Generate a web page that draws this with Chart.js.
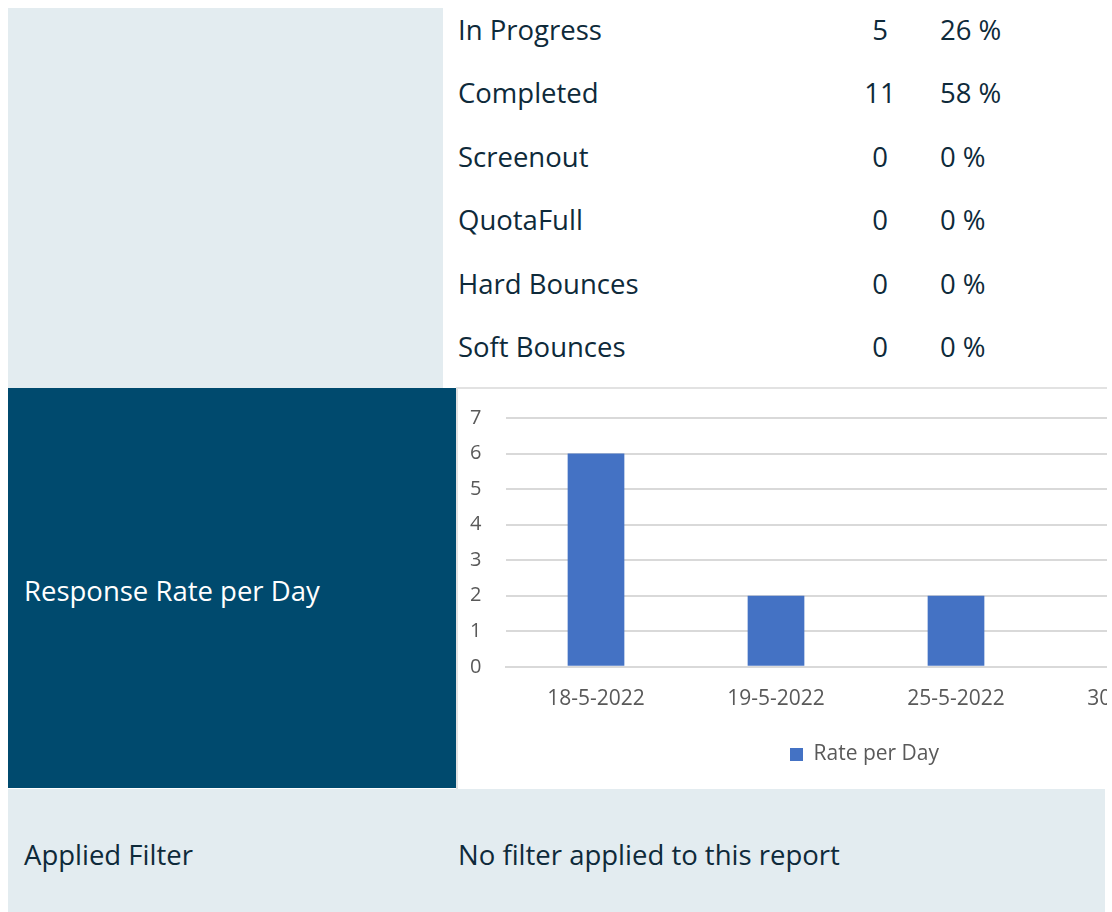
<!DOCTYPE html>
<html>
<head>
<meta charset="utf-8">
<script src="https://cdn.jsdelivr.net/npm/chart.js@4"></script>
<style>
  body { margin: 0; background: #fff; width: 1112px; height: 912px; overflow: hidden; position: relative;
         font-family: "Open Sans", "Noto Sans", sans-serif; color: #0e2a3a; }
  .panel { position: absolute; background: #e3ecf0; }
  .row { position: absolute; font-size: 27.5px; line-height: 32px; }
  #dark { position: absolute; left: 8px; top: 388px; width: 448px; height: 400px; background: #004a6e; }
  #dark span { position: absolute; left: 16px; top: 187px; color: #fff; font-size: 27.5px; line-height: 32px; }
  #chartWrap { position: absolute; left: 456px; top: 387px; width: 649px; height: 400px; overflow: hidden;
               border-top: 2px solid #e2e2e2; border-left: 2px solid #e2e2e2; background: #fff; }
</style>
</head>
<body>
<div class="panel" style="left:8px;top:8px;width:435px;height:380px"></div>
<div id="table"></div>
<div id="dark"><span>Response Rate per Day</span></div>
<div id="chartWrap"><canvas id="rate-chart" width="801" height="400"></canvas></div>
<div class="panel" style="left:8px;top:789px;width:1097px;height:123px">
  <div class="row" style="left:16px;top:50px">Applied Filter</div>
  <div class="row" style="left:450px;top:50px">No filter applied to this report</div>
</div>
<script>
// status table
var statusNames = ['In Progress', 'Completed', 'Screenout', 'QuotaFull', 'Hard Bounces', 'Soft Bounces'];
var statusCounts = [5, 11, 0, 0, 0, 0];
var statusPercents = ['26 %', '58 %', '0 %', '0 %', '0 %', '0 %'];

// chart data
var days = ['18-5-2022', '19-5-2022', '25-5-2022', '30-5-2022'];
var ratePerDay = [6, 2, 2, 1];
var yTicks = [0, 1, 2, 3, 4, 5, 6, 7];

var table = document.getElementById('table');
statusNames.forEach(function (name, i) {
    var top = 14 + i * 63.4;
    table.innerHTML +=
        '<div class="row" style="left:458px;top:' + top + 'px">' + name + '</div>' +
        '<div class="row" style="left:850px;width:60px;text-align:center;top:' + top + 'px">' + statusCounts[i] + '</div>' +
        '<div class="row" style="left:940px;top:' + top + 'px">' + statusPercents[i] + '</div>';
});

var ctx = document.getElementById('rate-chart').getContext('2d');
var rateChart = new Chart(ctx, {
    type: 'bar',
    data: {
        labels: days,
        datasets: [{
            label: 'Rate per Day',
            data: ratePerDay,
            backgroundColor: '#4472c4',
            barPercentage: 0.63,
            categoryPercentage: 0.5
        }]
    },
    options: {
        responsive: false,
        animation: false,
        layout: { padding: { top: 29, right: 0, bottom: 14, left: 12 } },
        plugins: {
            tooltip: { enabled: false },
            legend: {
                position: 'bottom',
                labels: { boxWidth: 13, boxHeight: 13, color: '#595959', padding: 20,
                          font: { family: 'Open Sans', size: 21 } }
            }
        },
        scales: {
            x: {
                grid: { display: false },
                border: { color: '#d9d9d9', width: 2 },
                ticks: { color: '#595959', padding: 12, font: { family: 'Open Sans', size: 21 } }
            },
            y: {
                min: 0, max: 7,
                afterFit: function (s) { s.width = 36; },
                afterBuildTicks: function (s) { s.ticks = yTicks.map(function (v) { return { value: v }; }); },
                border: { display: false },
                grid: { color: '#d9d9d9', lineWidth: 2, drawTicks: false },
                ticks: { color: '#595959', padding: 0, crossAlign: 'far', font: { family: 'Open Sans', size: 20 } }
            },
            // empty right-hand space so the legend sits centred like the original
            spacer: {
                position: 'right',
                afterFit: function (s) { s.width = 33; },
                grid: { display: false },
                border: { display: false },
                ticks: { display: false }
            }
        }
    }
});
</script>
</body>
</html>
